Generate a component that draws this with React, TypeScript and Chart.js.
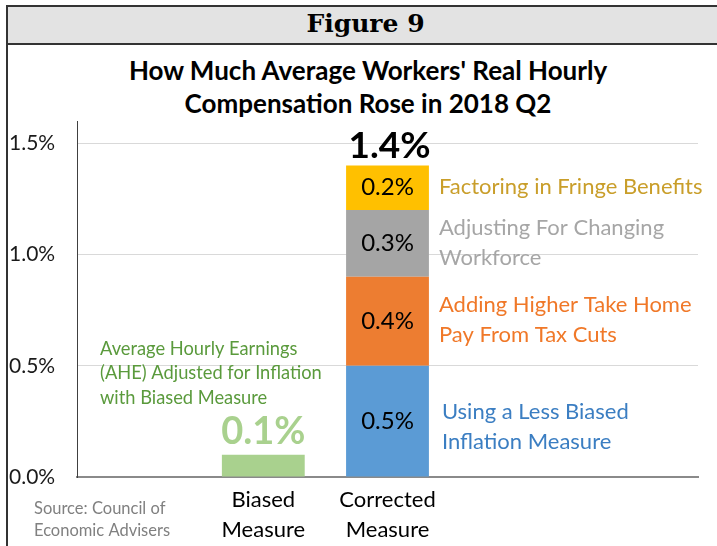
import React, { useEffect, useRef } from "react";
import { Chart, registerables } from "chart.js";

Chart.register(...registerables);

// ---- data ----
const categories: (string | string[])[] = ["", ["Biased", "Measure"], ["Corrected", "Measure"], "", ""];
const biasedValues = [null, 0.1, null, null, null];
const inflationValues = [null, null, 0.5, null, null];
const taxCutValues = [null, null, 0.4, null, null];
const workforceValues = [null, null, 0.3, null, null];
const fringeValues = [null, null, 0.2, null, null];
const yTickValues = [0, 0.5, 1.0, 1.5];
const yMax = 1.6;

const biasedNote = ["Average Hourly Earnings", "(AHE) Adjusted for Inflation", "with Biased Measure"];
const inflationNote = ["Using a Less Biased", "Inflation Measure"];
const taxCutNote = ["Adding Higher Take Home", "Pay From Tax Cuts"];
const workforceNote = ["Adjusting For Changing", "Workforce"];
const fringeNote = ["Factoring in Fringe Benefits"];
const sourceNote = ["Source: Council of", "Economic Advisers"];

const FONT = "Lato, 'Open Sans', sans-serif";

export default function App() {
  const ref = useRef<HTMLCanvasElement | null>(null);

  useEffect(() => {
    if (!ref.current) return;
    const notes: { lines: string[]; color: string; dx: number; dy: number }[] = [
      { lines: biasedNote, color: "#5a9a3c", dx: 0, dy: 0 },
      { lines: inflationNote, color: "#3b7ec2", dx: 13, dy: 6 },
      { lines: taxCutNote, color: "#f07828", dx: 10, dy: -1 },
      { lines: workforceNote, color: "#a6a6a6", dx: 10, dy: 0 },
      { lines: fringeNote, color: "#c99e2a", dx: 10, dy: -1 },
    ];

    const labelPlugin = {
      id: "barLabels",
      afterDatasetsDraw(chart: any) {
        const ctx = chart.ctx as CanvasRenderingContext2D;
        const area = chart.chartArea;
        ctx.save();
        ctx.textBaseline = "middle";
        const totals: Record<number, { sum: number; top: number; x: number }> = {};
        chart.data.datasets.forEach((ds: any, i: number) => {
          const meta = chart.getDatasetMeta(i);
          meta.data.forEach((el: any, j: number) => {
            const v = ds.data[j];
            if (v == null) return;
            const p = el.getProps(["x", "y", "base", "width"], true);
            const note = notes[i];
            if (i === 0) {
              ctx.fillStyle = "#a9d18e";
              ctx.font = `bold 38px ${FONT}`;
              ctx.textAlign = "center";
              ctx.fillText(`${v.toFixed(1)}%`, p.x, p.y - 23);
              ctx.fillStyle = note.color;
              ctx.font = `18.3px ${FONT}`;
              ctx.textAlign = "left";
              note.lines.forEach((l, k) => ctx.fillText(l, area.left + 23, p.y - 106 + k * 24.5));
            } else {
              const cy = (p.y + p.base) / 2;
              ctx.fillStyle = "#000";
              ctx.font = `24px ${FONT}`;
              ctx.textAlign = "center";
              ctx.fillText(`${v.toFixed(1)}%`, p.x, cy);
              ctx.fillStyle = note.color;
              ctx.font = `22px ${FONT}`;
              ctx.textAlign = "left";
              const n = note.lines.length;
              note.lines.forEach((l, k) =>
                ctx.fillText(l, p.x + p.width / 2 + note.dx, cy + note.dy + (k - (n - 1) / 2) * 30)
              );
              const t = totals[j] || { sum: 0, top: Infinity, x: p.x };
              t.sum += v;
              t.top = Math.min(t.top, p.y);
              totals[j] = t;
            }
          });
        });
        Object.values(totals).forEach((t) => {
          ctx.fillStyle = "#000";
          ctx.font = `bold 37px ${FONT}`;
          ctx.textAlign = "center";
          ctx.fillText(`${t.sum.toFixed(1)}%`, t.x + 2, t.top - 19);
        });
        ctx.fillStyle = "#808080";
        ctx.font = `16.5px ${FONT}`;
        ctx.textAlign = "left";
        sourceNote.forEach((l, k) => ctx.fillText(l, 34, 509 + k * 22));
        ctx.restore();
      },
    };

    const chart = new Chart(ref.current, {
      type: "bar",
      data: {
        labels: categories as any,
        datasets: [
          { label: "Biased", data: biasedValues as any, backgroundColor: "#a9d18e" },
          { label: "Less biased inflation", data: inflationValues as any, backgroundColor: "#5b9bd5" },
          { label: "Tax cuts", data: taxCutValues as any, backgroundColor: "#ed7d31" },
          { label: "Workforce", data: workforceValues as any, backgroundColor: "#a5a5a5" },
          { label: "Fringe", data: fringeValues as any, backgroundColor: "#ffc000" },
        ],
      },
      options: {
        responsive: false,
        animation: false,
        events: [],
        layout: { padding: { left: 9, right: 19, top: 121, bottom: 9 } },
        datasets: { bar: { categoryPercentage: 1, barPercentage: 0.667, borderWidth: 0 } },
        plugins: { legend: { display: false }, tooltip: { enabled: false }, title: { display: false } },
        scales: {
          x: {
            stacked: true,
            grid: { display: false, drawTicks: false },
            border: { display: true, color: "#8a8a8a", width: 2 },
            ticks: {
              color: "#000",
              font: { family: FONT, size: 22, lineHeight: 1.36 },
              padding: 8,
              maxRotation: 0,
              autoSkip: false,
            },
            afterFit: (s: any) => {
              s.height = 60;
            },
          },
          y: {
            stacked: true,
            min: 0,
            max: yMax,
            afterBuildTicks: (s: any) => {
              s.ticks = yTickValues.map((v) => ({ value: v }));
            },
            grid: { color: "#d9d9d9", lineWidth: 1, drawTicks: false },
            border: { display: true, color: "#404040", width: 1 },
            ticks: {
              color: "#1a1a1a",
              crossAlign: "far",
              font: { family: FONT, size: 21 },
              callback: (v: any) => `${Number(v).toFixed(1)}%`,
            },
            afterFit: (s: any) => {
              s.width = 68;
            },
          },
        },
      },
      plugins: [labelPlugin],
    } as any);
    return () => chart.destroy();
  }, []);

  return (
    <div style={{ position: "absolute", left: 0, top: 0, width: 717, height: 546, background: "#fff", overflow: "hidden" }}>
      <div
        style={{
          position: "absolute",
          left: 6,
          top: 5,
          width: 740,
          height: 36,
          background: "#e3e3e3",
          borderTop: "2px solid #333",
          borderLeft: "2px solid #333",
          borderBottom: "2px solid #333",
        }}
      />
      <div
        style={{
          position: "absolute",
          left: 6,
          top: 5,
          width: 719,
          height: 38,
          lineHeight: "38px",
          textAlign: "center",
          fontFamily: "'DejaVu Serif', serif",
          fontWeight: "bold",
          fontSize: 25,
          color: "#000",
        }}
      >
        Figure 9
      </div>
      <div style={{ position: "absolute", left: 6, top: 43, width: 2, height: 503, background: "#333" }} />
      <div
        style={{
          position: "absolute",
          left: 0,
          top: 54,
          width: 736,
          textAlign: "center",
          fontFamily: FONT,
          fontWeight: "bold",
          fontSize: 26,
          lineHeight: "33px",
          color: "#000",
        }}
      >
        How Much Average Workers' Real Hourly
        <br />
        Compensation Rose in 2018 Q2
      </div>
      <canvas ref={ref} width={717} height={546} style={{ position: "absolute", left: 0, top: 0 }} />
    </div>
  );
}
